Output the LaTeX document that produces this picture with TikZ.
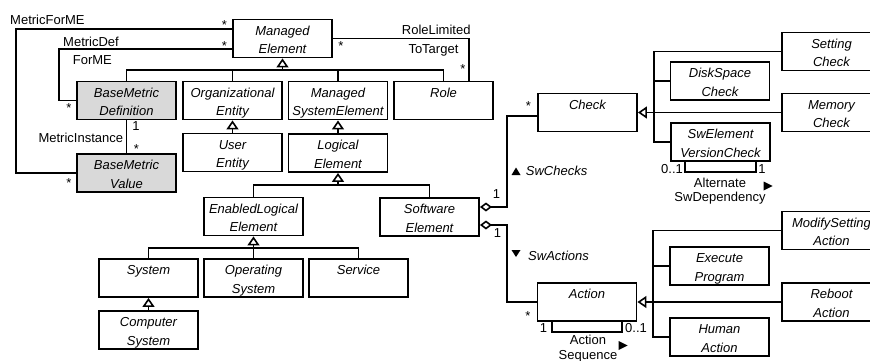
\documentclass[tikz,border=0pt]{standalone}
\usepackage{fontspec}
\setmainfont{Liberation Sans}
\usetikzlibrary{arrows.meta}
% two text lines placed at fixed heights inside a class box
\newcommand\clstext[2]{\rule{0pt}{15.7pt}#1\\#2\rule[-4pt]{0pt}{4pt}}
\begin{document}
\begin{tikzpicture}[x=1pt,y=-1pt,
  cls/.style={draw, line width=1.9pt, minimum width=99pt, minimum height=38pt,
    inner sep=0pt, align=center, fill=white,
    font=\itshape\fontsize{13}{18.3}\selectfont},
  base/.style={cls, fill=black!15},
  conn/.style={line width=1.6pt},
  inh/.style={conn, -{Triangle[fill=white, length=9pt, width=12pt]}},
  agg/.style={conn, {Diamond[fill=white, length=12pt, width=9pt]}-},
  lbl/.style={inner sep=0pt, anchor=base, font=\fontsize{13}{15}\selectfont},
  rlbl/.style={lbl, font=\itshape\fontsize{13}{15}\selectfont}
]
\useasboundingbox (0,0) rectangle (870,361);
\clip (0,0) rectangle (870,361);

% ---- class boxes ----
\node[cls]  (ME)    at (282.5,38.5) {\clstext{Managed}{Element}};
\node[base] (BMD)   at (126.5,100.5) {\clstext{BaseMetric}{Definition}};
\node[cls]  (OE)    at (232.5,100.5) {\clstext{Organizational}{Entity}};
\node[cls]  (MSE)   at (338,100.5) {\clstext{Managed}{SystemElement}};
\node[cls]  (Role)  at (443.5,100.5) {\clstext{Role}{}};
\node[base] (BMV)   at (126.5,173) {\clstext{BaseMetric}{Value}};
\node[cls]  (UE)    at (232.5,152.5) {\clstext{User}{Entity}};
\node[cls]  (LE)    at (338,153) {\clstext{Logical}{Element}};
\node[cls]  (ELE)   at (253.5,216.5) {\clstext{EnabledLogical}{Element}};
\node[cls]  (SE)    at (429.5,217) {\clstext{Software}{Element}};
\node[cls]  (Sys)   at (148.5,278) {\clstext{System}{}};
\node[cls]  (OS)    at (253.5,278) {\clstext{Operating}{System}};
\node[cls]  (Svc)   at (358.5,278) {\clstext{Service}{}};
\node[cls]  (CS)    at (148.5,330) {\clstext{Computer}{System}};

\node[cls]  (Check) at (587.5,112.5) {\clstext{Check}{}};
\node[cls]  (SC)    at (831.5,51.5) {\clstext{Setting}{Check}};
\node[cls]  (DSC)   at (720,81) {\clstext{DiskSpace}{Check}};
\node[cls]  (MC)    at (831.5,112.5) {\clstext{Memory}{Check}};
\node[cls]  (SwEVC) at (720.5,142) {\clstext{SwElement}{VersionCheck}};

\node[cls]  (Action) at (587,302) {\clstext{Action}{}};
\node[cls]  (MSA)   at (831.5,230.5) {\clstext{ModifySetting}{Action}};
\node[cls]  (EP)    at (719.5,266) {\clstext{Execute}{Program}};
\node[cls]  (RA)    at (831.5,302) {\clstext{Reboot}{Action}};
\node[cls]  (HA)    at (719.5,337) {\clstext{Human}{Action}};

% ---- generalizations ----
\coordinate (mebus) at (282.5,70);
\draw[conn] (BMD.north) |- (mebus) -| (Role.north);
\draw[conn] (OE.north) -- (OE.north |- mebus);
\draw[conn] (MSE.north) -- (MSE.north |- mebus);
\draw[inh] (mebus) -- (ME.south);

\draw[inh] (UE.north) -- (OE.south);
\draw[inh] (LE.north) -- (MSE.south);

\coordinate (lebus) at (338,185);
\draw[conn] (ELE.north) |- (lebus) -| (SE.north);
\draw[inh] (lebus) -- (LE.south);

\coordinate (elebus) at (253.5,248);
\draw[conn] (Sys.north) |- (elebus) -| (Svc.north);
\draw[inh] (OS.north) -- (ELE.south);
\draw[inh] (CS.north) -- (Sys.south);

\coordinate (ckbus) at (654,112.5);
\draw[conn] (SC.west) -| (SwEVC.west -| ckbus) -- (SwEVC.west);
\draw[conn] (DSC.west) -- (DSC.west -| ckbus);
\draw[conn] (MC.west) -- (ckbus);
\draw[inh] (ckbus) -- (Check.east);

\coordinate (acbus) at (653,302);
\draw[conn] (MSA.west) -| (HA.west -| acbus) -- (HA.west);
\draw[conn] (EP.west) -- (EP.west -| acbus);
\draw[conn] (RA.west) -- (acbus);
\draw[inh] (acbus) -- (Action.east);

% ---- associations ----
\draw[conn] ([yshift=9.5pt]ME.west) -| (16,173) -- (BMV.west);
\draw[conn] ([yshift=-10.5pt]ME.west) -| (59,100.5) -- (BMD.west);
\draw[conn] (BMD.south) -- (BMV.north);
\draw[conn] (ME.east) -| ([xshift=25.5pt]Role.north);

\draw[agg] ([yshift=10pt]SE.east) -| (507,116) -- ([yshift=-3.5pt]Check.west);
\draw[agg] ([yshift=-8pt]SE.east) -| (507,302) -- (Action.west);

\draw[conn] ([xshift=-35.5pt]SwEVC.south) -- ++(0,10) -| ([xshift=35.5pt]SwEVC.south);
\draw[conn] ([xshift=-35pt]Action.south) -- ++(0,10) -| ([xshift=35pt]Action.south);

% ---- association labels ----
\node[lbl, anchor=base west] (lMfm) at (10,25) {MetricForME};
\node[lbl] (sMfm1) at (224.5,29.6) {*};
\node[lbl] (sMfm2) at (69,187.6) {*};
\node[lbl, anchor=base west] (lMd1) at (63,46.5) {MetricDef};
\node[lbl, anchor=base west] (lMd2) at (72.7,64) {ForME};
\node[lbl] (sMd1) at (224.5,50.6) {*};
\node[lbl] (sMd2) at (69,112.6) {*};
\node[lbl, anchor=base east] (lMi) at (123.3,142) {MetricInstance};
\node[lbl] (oMi) at (136,130) {1};
\node[lbl] (sMi) at (136.5,153.6) {*};
\node[lbl, anchor=base west] (lRl1) at (401.7,35) {RoleLimited};
\node[lbl, anchor=base west] (lRl2) at (408.3,54) {ToTarget};
\node[lbl] (sRl1) at (341,50.6) {*};
\node[lbl] (sRl2) at (463,73.6) {*};

\node[lbl] (oSc) at (496.5,198) {1};
\node[lbl] (sSc) at (528.5,110.6) {*};
\node[rlbl, anchor=base west] (lSc) at (525.7,175) {SwChecks};
\fill (516,167.5) -- (520.5,175) -- (511.5,175) -- cycle;

\node[lbl] (oSa) at (497.5,237.5) {1};
\node[lbl] (sSa) at (528,320.6) {*};
\node[rlbl, anchor=base west] (lSa) at (528,260) {SwActions};
\fill (516,257) -- (520.5,250) -- (511.5,250) -- cycle;

\node[lbl, anchor=base west] (mAd1) at (661,173) {0..1};
\node[lbl] (mAd2) at (762,173) {1};
\node[lbl] (lAd1) at (720,187) {Alternate};
\node[lbl] (lAd2) at (720,201.5) {SwDependency};
\fill (772.5,186) -- (763.5,181.5) -- (763.5,190.5) -- cycle;

\node[lbl] (mAs1) at (543.5,332) {1};
\node[lbl, anchor=base west] (mAs2) at (625,332) {0..1};
\node[lbl] (lAs1) at (588,344) {Action};
\node[lbl] (lAs2) at (588,359.5) {Sequence};
\fill (627.5,345.5) -- (618.5,341) -- (618.5,350) -- cycle;
\end{tikzpicture}
\end{document}
